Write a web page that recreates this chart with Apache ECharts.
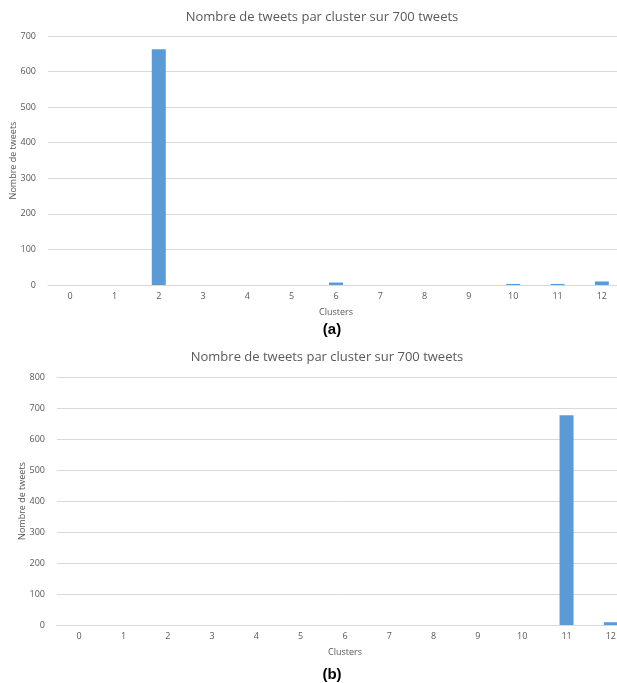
<!DOCTYPE html>
<html>
<head>
<meta charset="utf-8">
<script src="https://cdn.jsdelivr.net/npm/echarts@6/dist/echarts.min.js"></script>
<style>
html,body{margin:0;padding:0;background:#fff;}
#c{width:617px;height:683px;}
</style>
</head>
<body>
<div id="c"></div>
<script>
var categories = ['0','1','2','3','4','5','6','7','8','9','10','11','12'];
var valuesA = [0, 0, 663, 0, 0, 0, 7, 0, 0, 0, 3, 3, 10];
var valuesB = [0, 0, 0, 0, 0, 0, 0, 0, 0, 0, 0, 677, 9];
var titleText = 'Nombre de tweets par cluster sur 700 tweets';
var yName = 'Nombre de tweets';
var xName = 'Clusters';
var panelLabels = ['(a)', '(b)'];

var FONT = '"Open Sans", sans-serif';
var grey = '#595959';
var gridCol = '#d9d9d9';
var barCol = '#5B9BD5';

function xAx(gi){
  return {
    type:'category', gridIndex:gi, data:categories,
    axisTick:{show:false},
    axisLine:{lineStyle:{color:gridCol,width:1}},
    axisLabel:{color:grey,fontSize:9,fontFamily:FONT,margin:7},
    name:xName, nameLocation:'middle', nameGap:23, nameMoveOverlap:false,
    nameTextStyle:{color:grey,fontSize:9,fontFamily:FONT}
  };
}
function yAx(gi,max){
  return {
    type:'value', gridIndex:gi, min:0, max:max, interval:100,
    axisLine:{show:false}, axisTick:{show:false},
    splitLine:{lineStyle:{color:gridCol,width:1}},
    axisLabel:{color:grey,fontSize:9,fontFamily:FONT,margin:12},
    name:yName, nameLocation:'middle', nameGap:30, nameRotate:90, nameMoveOverlap:false,
    nameTextStyle:{color:grey,fontSize:9,fontFamily:FONT}
  };
}

var chart = echarts.init(document.getElementById('c'), null, {renderer:'canvas'});
chart.setOption({
  animation:false,
  backgroundColor:'#fff',
  title:[
    {text:titleText, left:317, top:6, textAlign:'center',
     textStyle:{color:grey,fontSize:13,fontWeight:'normal',fontFamily:FONT}},
    {text:titleText, left:322, top:346, textAlign:'center',
     textStyle:{color:grey,fontSize:13,fontWeight:'normal',fontFamily:FONT}},
    {text:panelLabels[0], left:327, top:317, textAlign:'center',
     textStyle:{color:'#000',fontSize:15,fontWeight:'bold',fontFamily:'"Liberation Sans", Arial, sans-serif'}},
    {text:panelLabels[1], left:327, top:662, textAlign:'center',
     textStyle:{color:'#000',fontSize:15,fontWeight:'bold',fontFamily:'"Liberation Sans", Arial, sans-serif'}}
  ],
  grid:[
    {left:48, width:576, top:36, height:249, outerBoundsMode:'none', containLabel:false},
    {left:57, width:576, top:377, height:248, outerBoundsMode:'none', containLabel:false}
  ],
  xAxis:[xAx(0), xAx(1)],
  yAxis:[yAx(0,700), yAx(1,800)],
  series:[
    {type:'bar', xAxisIndex:0, yAxisIndex:0, data:valuesA, barWidth:14,
     itemStyle:{color:barCol}},
    {type:'bar', xAxisIndex:1, yAxisIndex:1, data:valuesB, barWidth:14,
     itemStyle:{color:barCol}}
  ]
});
</script>
</body>
</html>
